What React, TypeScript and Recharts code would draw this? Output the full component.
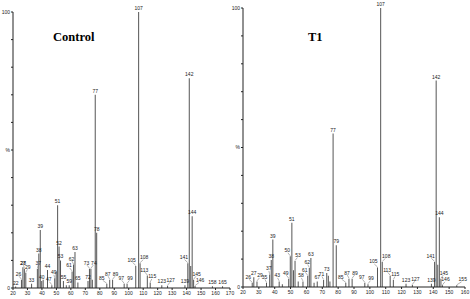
import { Bar, BarChart, LabelList, XAxis, YAxis } from "recharts";

// m/z and relative abundance (%)
const controlMz = [22, 26, 27, 28, 29, 33, 37, 38, 39, 40, 41, 44, 47, 49, 50, 51, 52, 53, 55, 57, 59, 61, 62, 63, 65, 72, 73, 74, 75, 77, 78, 85, 87, 89, 97, 99, 105, 107, 108, 113, 115, 123, 127, 139, 141, 142, 143, 144, 145, 146, 158, 165];
const controlPct = [0.5, 3, 7.5, 7, 5.5, 1.5, 7, 12.5, 21, 2.5, 3, 6.5, 1, 3.5, 6, 30, 15, 10, 2.5, 1, 1, 6, 8.5, 13, 2, 2.5, 7, 7, 3, 70, 20, 1.5, 3, 3, 1.5, 1.5, 8, 100, 9, 4.5, 2, 1, 0.8, 1, 9, 76, 8, 26, 3, 0.7, 0.6, 0.6];
const controlTags = [22, 26, 27, 28, 29, 33, 37, 38, 39, 40, 44, 47, 49, 51, 52, 53, 55, 59, 61, 62, 63, 65, 72, 73, 74, 77, 78, 85, 87, 89, 97, 99, 105, 107, 108, 113, 115, 123, 127, 139, 141, 142, 144, 145, 146, 158, 165];

const t1Mz = [26, 27, 29, 35, 37, 38, 39, 43, 45, 49, 50, 51, 52, 53, 55, 58, 61, 62, 63, 65, 67, 71, 73, 74, 75, 77, 79, 85, 87, 89, 97, 99, 105, 107, 108, 113, 115, 123, 127, 139, 141, 142, 143, 144, 145, 146, 155];
const t1Pct = [1.5, 3.5, 2, 1.5, 4.5, 9.7, 17, 2, 1, 3, 11, 23, 6, 9.3, 2, 2, 4, 6.8, 10.4, 1.5, 2, 2.5, 5, 4, 2, 55, 15, 1.5, 3, 3, 1.5, 1, 7, 100, 9, 4, 2.5, 1.2, 0.8, 1.2, 9, 74, 8, 25, 3, 0.6, 0.6];
const t1Tags = [26, 27, 29, 35, 37, 38, 39, 43, 49, 50, 51, 53, 58, 61, 62, 63, 67, 71, 73, 77, 79, 85, 87, 89, 97, 99, 105, 107, 108, 113, 115, 123, 127, 139, 141, 142, 144, 145, 146, 155];

const controlTicks = [20, 30, 40, 50, 60, 70, 80, 90, 100, 110, 120, 130, 140, 150, 160, 170];
const t1Ticks = [20, 30, 40, 50, 60, 70, 80, 90, 100, 110, 120, 130, 140, 150, 160];
const pctTicks = [0, 10, 20, 30, 40, 50, 60, 70, 80, 90, 100];

// sideways nudges (px) for crowded peak labels, drawn with a leader line
const controlShift: Record<string, number> = {
  "26": -3, "28": -1, "29": 2, "37": 1, "47": -3, "49": -1, "61": -3, "62": -2,
  "73": -3, "74": 3, "85": -5, "87": -2, "89": 3, "97": -3, "99": 3,
  "105": -4, "108": 4, "113": -3, "115": 2, "127": 3, "141": -4, "145": 3, "146": 5,
};
const t1Shift: Record<string, number> = {
  "26": -4, "29": 3, "35": -2, "37": -1, "43": -2, "49": -3, "50": -3, "53": 3,
  "58": -2, "61": -3, "62": -2, "71": -2, "85": -5, "87": -2, "89": 3, "97": -3, "99": 3,
  "105": -4, "108": 4, "113": -3, "115": 2, "127": 3, "141": -4, "145": 3, "146": 3, "155": 6,
};

const build = (mz: number[], pct: number[], tags: number[]) =>
  mz.map((m, i) => ({ mz: m, pct: pct[i], tag: tags.includes(m) ? String(m) : "" }));

const pctLabel = (v: number) => (v === 100 ? "100" : v === 50 ? "%" : v === 0 ? "0" : "");

const peakLabel = (shift: Record<string, number>) => (props: any) => {
  const { x, y, width, value } = props;
  if (!value) return null;
  const cx = Number(x) + Number(width) / 2;
  const top = Number(y);
  const dx = shift[value] ?? 0;
  const ty = dx === 0 ? top - 2 : top - 4;
  return (
    <g>
      {dx !== 0 && (
        <line x1={cx} y1={top - 0.5} x2={cx + dx * 0.8} y2={ty + 0.5} stroke="#666" strokeWidth={0.5} />
      )}
      <text x={cx + dx} y={ty} textAnchor="middle" fontSize={5} fill="#222" fontFamily="Liberation Sans">
        {value}
      </text>
    </g>
  );
};

type Margin = { top: number; right: number; left: number; bottom: number };

function Spectrum({ data, title, xMax, xTicks, margin, titleLeft, shift }: {
  data: { mz: number; pct: number; tag: string }[];
  title: string;
  xMax: number;
  xTicks: number[];
  margin: Margin;
  titleLeft: number;
  shift: Record<string, number>;
}) {
  const tickStyle = { fontSize: 5, fill: "#222", fontFamily: "Liberation Sans" };
  return (
    <div style={{ position: "relative", width: 240, height: 299 }}>
      <BarChart width={240} height={299} data={data} margin={margin} barSize={1}>
        <XAxis dataKey="mz" type="number" domain={[20, xMax]} ticks={xTicks} interval={0}
          tick={tickStyle} tickSize={2} tickMargin={1} height={11} stroke="#222" />
        <YAxis type="number" domain={[0, 100]} ticks={pctTicks} interval={0} tickFormatter={pctLabel}
          tick={tickStyle} tickSize={2} tickMargin={1} width={12} stroke="#222" />
        <Bar dataKey="pct" fill="#555" isAnimationActive={false}>
          <LabelList dataKey="tag" content={peakLabel(shift)} />
        </Bar>
      </BarChart>
      <div style={{ position: "absolute", left: titleLeft, top: 31, font: "bold 12.5px 'Liberation Serif'", lineHeight: "13px" }}>
        {title}
      </div>
    </div>
  );
}

export default function App() {
  return (
    <div style={{ position: "fixed", left: 0, top: 0, width: 470, height: 299, background: "#fff", display: "flex" }}>
      <div style={{ width: 230, overflow: "visible" }}>
        <Spectrum data={build(controlMz, controlPct, controlTags)} title="Control" xMax={170} shift={controlShift}
          xTicks={controlTicks} margin={{ top: 12, right: 10, left: 1, bottom: 0 }} titleLeft={53} />
      </div>
      <div style={{ width: 240 }}>
        <Spectrum data={build(t1Mz, t1Pct, t1Tags)} title="T1" xMax={160} shift={t1Shift}
          xTicks={t1Ticks} margin={{ top: 8, right: 5, left: 1, bottom: 1 }} titleLeft={78} />
      </div>
    </div>
  );
}
